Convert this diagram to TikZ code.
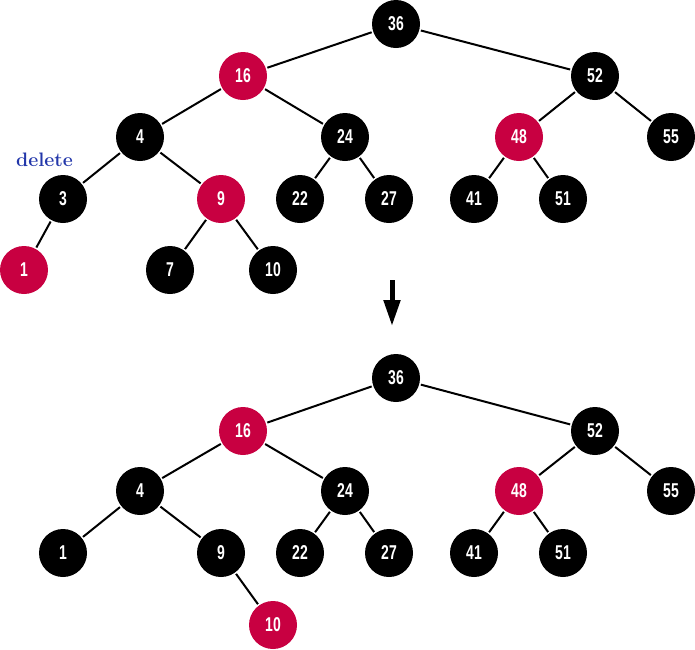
\documentclass[tikz,border=0pt]{standalone}
\usepackage{fontspec}
\usetikzlibrary{arrows.meta}
\newfontfamily\nodefont[FakeStretch=0.7]{Liberation Sans Bold}
\definecolor{rbred}{RGB}{200,0,65}
\definecolor{delblue}{RGB}{35,55,170}
\tikzset{
  bnode/.style={circle, fill=black, minimum size=48pt, inner sep=0pt, text=white, font=\nodefont\fontsize{20}{20}\selectfont},
  rnode/.style={bnode, fill=rbred},
  edge/.style={line width=2pt, shorten <=1.5pt, shorten >=1.5pt},
}
\begin{document}
\begin{tikzpicture}[x=1pt,y=-1pt]
\useasboundingbox (0,0) rectangle (695,649);
% top tree
\node[bnode] (a36) at (396,24) {36};
\node[rnode] (a16) at (243,76) {16};
\node[bnode] (a52) at (595,76) {52};
\node[bnode] (a4) at (140,137) {4};
\node[bnode] (a24) at (345,137) {24};
\node[rnode] (a48) at (519,137) {48};
\node[bnode] (a55) at (671,137) {55};
\node[bnode] (a3) at (63,199) {3};
\node[rnode] (a9) at (221,199) {9};
\node[bnode] (a22) at (300,199) {22};
\node[bnode] (a27) at (389,199) {27};
\node[bnode] (a41) at (474,199) {41};
\node[bnode] (a51) at (563,199) {51};
\node[rnode] (a1) at (24,270) {1};
\node[bnode] (a7) at (170,270) {7};
\node[bnode] (a10) at (273,270) {10};
\node[text=delblue, font=\bfseries\fontsize{19.5}{19.5}\selectfont, inner sep=0pt] (del) at (44.5,160) {delete};
\foreach \p/\c in {a36/a16,a36/a52,a16/a4,a16/a24,a52/a48,a52/a55,a4/a3,a4/a9,a24/a22,a24/a27,a48/a41,a48/a51,a3/a1,a9/a7,a9/a10}
  \draw[edge] (\p) -- (\c);
% arrow
\coordinate (arrS) at (392,280);
\coordinate (arrE) at (392,326);
\draw[line width=5pt, -{Triangle[length=26pt,width=16pt]}] (arrS) -- (arrE);
% bottom tree
\node[bnode] (b36) at (396,378) {36};
\node[rnode] (b16) at (243,431) {16};
\node[bnode] (b52) at (595,431) {52};
\node[bnode] (b4) at (140,491) {4};
\node[bnode] (b24) at (345,491) {24};
\node[rnode] (b48) at (519,491) {48};
\node[bnode] (b55) at (671,491) {55};
\node[bnode] (b1) at (63,553) {1};
\node[bnode] (b9) at (221,553) {9};
\node[bnode] (b22) at (300,553) {22};
\node[bnode] (b27) at (389,553) {27};
\node[bnode] (b41) at (474,553) {41};
\node[bnode] (b51) at (563,553) {51};
\node[rnode] (b10) at (273,625) {10};
\foreach \p/\c in {b36/b16,b36/b52,b16/b4,b16/b24,b52/b48,b52/b55,b4/b1,b4/b9,b24/b22,b24/b27,b48/b41,b48/b51,b9/b10}
  \draw[edge] (\p) -- (\c);
\end{tikzpicture}
\end{document}
